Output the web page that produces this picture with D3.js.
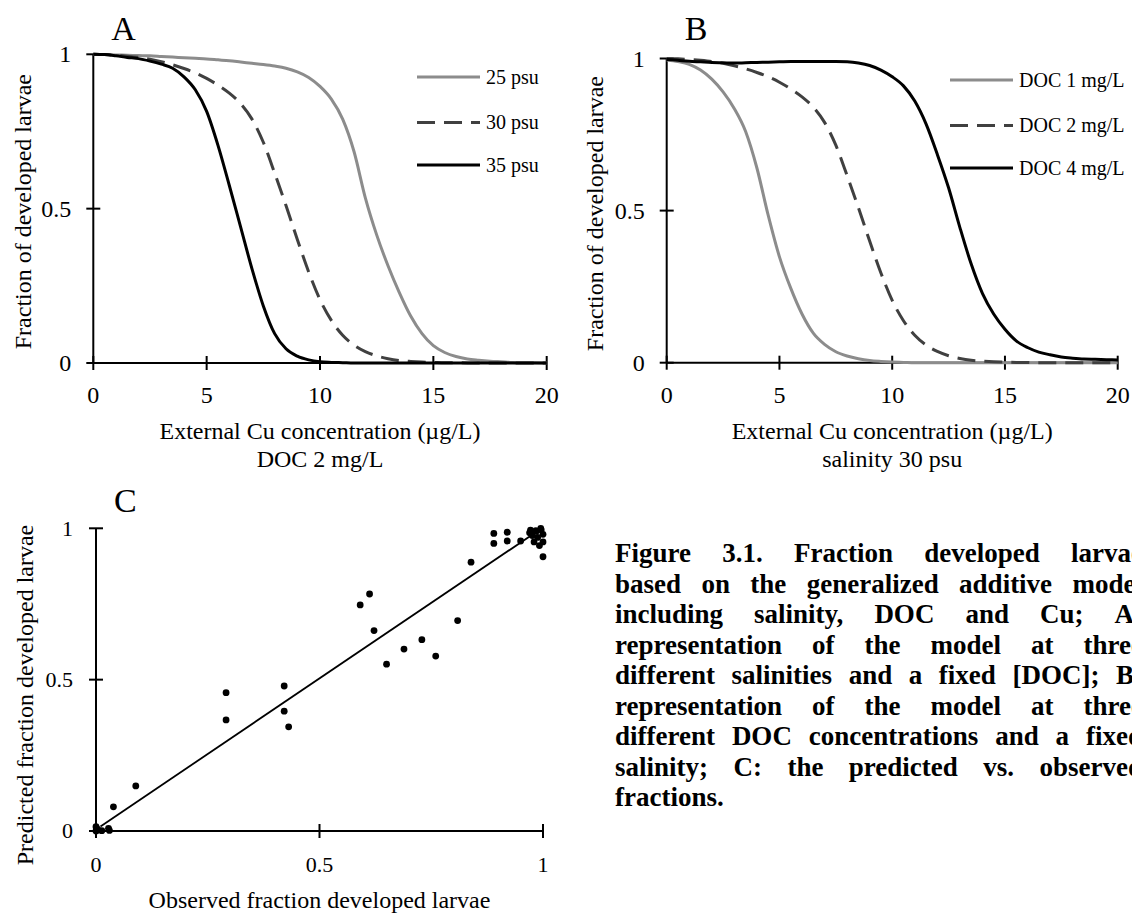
<!DOCTYPE html>
<html><head><meta charset="utf-8">
<script src="https://cdn.jsdelivr.net/npm/d3@7"></script>
<style>body{margin:0;background:#fff}svg{display:block}text{font-family:"Liberation Serif","Times New Roman",serif;fill:#000}</style>
</head><body>
<svg id="chart" width="1132" height="915"></svg>
<script>
// ---- data ----
const cuX = [0,0.5,1,1.5,2,2.5,3,3.5,4,4.5,5,5.5,6,6.5,7,7.5,8,8.5,9,9.5,10,10.5,11,11.5,12,12.5,13,13.5,14,14.5,15,15.5,16,16.5,17,17.5,18,18.5,19,19.5,20];
const psu25 = [1,0.999,0.998,0.997,0.996,0.995,0.993,0.991,0.989,0.987,0.985,0.982,0.979,0.975,0.971,0.967,0.962,0.955,0.943,0.925,0.896,0.855,0.79,0.685,0.535,0.415,0.315,0.228,0.152,0.095,0.056,0.034,0.021,0.013,0.009,0.006,0.004,0.002,0.001,0.001,0];
const psu30 = [1,0.999,0.997,0.994,0.99,0.984,0.976,0.966,0.954,0.94,0.922,0.9,0.874,0.84,0.79,0.715,0.615,0.51,0.4,0.295,0.205,0.138,0.09,0.058,0.037,0.023,0.014,0.008,0.005,0.003,0.002,0.001,0.001,0,0,0,0,0,0,0,0];
const psu35 = [1,0.999,0.995,0.99,0.986,0.978,0.968,0.955,0.927,0.885,0.815,0.705,0.575,0.44,0.305,0.185,0.095,0.046,0.022,0.01,0.004,0.002,0.001,0,0,0,0,0,0,0,0,0,0,0,0,0,0,0,0,0,0];
const doc1 = [0.995,0.99,0.981,0.962,0.932,0.89,0.835,0.76,0.64,0.485,0.348,0.245,0.16,0.097,0.06,0.036,0.022,0.013,0.007,0.004,0.002,0.001,0,0,0,0,0,0,0,0,0,0,0,0,0,0,0,0,0,0,0];
const doc2 = [1,0.999,0.997,0.994,0.99,0.984,0.976,0.966,0.954,0.94,0.922,0.9,0.874,0.84,0.79,0.715,0.615,0.51,0.4,0.295,0.205,0.138,0.09,0.058,0.037,0.023,0.014,0.008,0.005,0.003,0.002,0.001,0.001,0,0,0,0,0,0,0,0];
const doc4 = [0.997,0.994,0.991,0.989,0.987,0.986,0.985,0.986,0.987,0.988,0.989,0.99,0.99,0.99,0.99,0.99,0.989,0.985,0.977,0.962,0.94,0.91,0.86,0.785,0.685,0.575,0.445,0.325,0.228,0.16,0.11,0.072,0.05,0.035,0.026,0.019,0.015,0.012,0.011,0.01,0.009];
const cuTicks = [0,5,10,15,20];
const fracTicks = [0,0.5,1];
const seriesNamesA = ["25 psu","30 psu","35 psu"];
const seriesNamesB = ["DOC 1 mg/L","DOC 2 mg/L","DOC 4 mg/L"];
const observed = [0,0.005,0,0.013,0.002,0.028,0.03,0.039,0.089,0.291,0.291,0.421,0.421,0.431,0.591,0.612,0.622,0.650,0.689,0.729,0.760,0.809,0.839,0.890,0.890,0.920,0.920,0.950,0.972,0.984,0.996,1.0,0.98,0.992,1.0,1.0,0.976,0.988,0.995,0.985,0.97];
const predicted = [0.014,0.003,0,0.001,0.008,0.009,0.002,0.080,0.149,0.457,0.367,0.479,0.396,0.344,0.747,0.783,0.662,0.551,0.601,0.632,0.578,0.695,0.888,0.983,0.950,0.987,0.958,0.958,0.994,0.992,0.994,0.98,0.955,0.943,0.955,0.906,0.976,0.970,1.0,0.99,0.985];
const fitObs = [0.01,0.975];
const fitPred = [0.015,0.978];
const captionLines = [
  "Figure 3.1. Fraction developed larvae",
  "based on the generalized additive model",
  "including salinity, DOC and Cu; A:",
  "representation of the model at three",
  "different salinities and a fixed [DOC]; B:",
  "representation of the model at three",
  "different DOC concentrations and a fixed",
  "salinity; C: the predicted vs. observed",
  "fractions."
];

// ---- styles ----
const styles = [
  {stroke:"#8c8c8c", dash:null},
  {stroke:"#404040", dash:"18,9"},
  {stroke:"#000", dash:null}
];

const svg = d3.select("#chart");

function drawAxes(g, x, y, xt, yt, fs, xfmt, yfmt, xLabDy, yLabDx){
  g.append("line").attr("x1",x.range()[0]).attr("x2",x.range()[1])
    .attr("y1",y(0)).attr("y2",y(0)).attr("stroke","#000").attr("stroke-width",2);
  g.append("line").attr("x1",x(0)).attr("x2",x(0))
    .attr("y1",y(0)).attr("y2",y.range()[1]).attr("stroke","#000").attr("stroke-width",2);
  xt.forEach(v=>{
    g.append("line").attr("x1",x(v)).attr("x2",x(v)).attr("y1",y(0)-7).attr("y2",y(0)+7)
      .attr("stroke","#000").attr("stroke-width",2);
    g.append("text").attr("x",x(v)).attr("y",y(0)+xLabDy).attr("text-anchor","middle")
      .style("font-size",fs+"px").text(xfmt(v));
  });
  yt.forEach(v=>{
    g.append("line").attr("x1",x(0)-7).attr("x2",x(0)+7).attr("y1",y(v)).attr("y2",y(v))
      .attr("stroke","#000").attr("stroke-width",2);
    g.append("text").attr("x",x(0)-yLabDx).attr("y",y(v)).attr("dy","0.34em").attr("text-anchor","end")
      .style("font-size",fs+"px").text(yfmt(v));
  });
}
const fmt = v => String(v);

function curvePanel(o){
  const g = svg.append("g");
  const x = d3.scaleLinear().domain([0,20]).range([o.x0,o.x1]);
  const y = d3.scaleLinear().domain([0,1]).range([o.y0,o.y1]);
  drawAxes(g,x,y,cuTicks,fracTicks,24,fmt,fmt,40,22);
  const line = d3.line().x((d,i)=>x(cuX[i])).y(d=>y(d)).curve(d3.curveMonotoneX);
  o.series.forEach((s,i)=>{
    g.append("path").datum(s).attr("d",line).attr("fill","none")
      .attr("stroke",styles[i].stroke).attr("stroke-width",3)
      .attr("stroke-dasharray",styles[i].dash);
  });
  o.names.forEach((n,i)=>{
    const ly = o.legY[i];
    g.append("line").attr("x1",o.legX).attr("x2",o.legX+63).attr("y1",ly).attr("y2",ly)
      .attr("stroke",styles[i].stroke).attr("stroke-width",3).attr("stroke-dasharray",styles[i].dash);
    g.append("text").attr("x",o.legX+69).attr("y",ly).attr("dy","0.34em")
      .style("font-size","20px").text(n);
  });
  const cx = (o.x0+o.x1)/2;
  g.append("text").attr("x",cx).attr("y",439).attr("text-anchor","middle").style("font-size","24px")
    .text("External Cu concentration (µg/L)");
  g.append("text").attr("x",cx).attr("y",467).attr("text-anchor","middle").style("font-size","24px")
    .text(o.sub);
  g.append("text").attr("transform",`translate(${o.yTitleX},${(o.y0+o.y1)/2+3}) rotate(-90)`)
    .attr("text-anchor","middle").style("font-size","24px").text("Fraction of developed larvae");
  g.append("text").attr("x",o.x0+18).attr("y",40).style("font-size","34px").text(o.letter);
}

curvePanel({x0:93.3,x1:546.7,y0:363,y1:54.3,series:[psu25,psu30,psu35],names:seriesNamesA,
  legX:417,legY:[77,122.4,165],sub:"DOC 2 mg/L",yTitleX:31,letter:"A"});
curvePanel({x0:666.7,x1:1117.7,y0:362.7,y1:58.5,series:[doc1,doc2,doc4],names:seriesNamesB,
  legX:950,legY:[80,125.6,168],sub:"salinity 30 psu",yTitleX:603,letter:"B"});

// ---- panel C ----
(function(){
  const g = svg.append("g");
  const x = d3.scaleLinear().domain([0,1]).range([96,543]);
  const y = d3.scaleLinear().domain([0,1]).range([831,528.3]);
  drawAxes(g,x,y,fracTicks,fracTicks,22,fmt,fmt,41,23);
  g.append("line").attr("x1",x(fitObs[0])).attr("y1",y(fitPred[0]))
    .attr("x2",x(fitObs[1])).attr("y2",y(fitPred[1])).attr("stroke","#000").attr("stroke-width",1.8);
  g.selectAll("circle.pt").data(observed.map((o,i)=>[o,predicted[i]])).join("circle")
    .attr("class","pt").attr("cx",d=>x(d[0])).attr("cy",d=>y(d[1])).attr("r",3.4).attr("fill","#000");
  g.append("text").attr("x",319.5).attr("y",908).attr("text-anchor","middle").style("font-size","24px")
    .text("Observed fraction developed larvae");
  g.append("text").attr("transform",`translate(33,695) rotate(-90)`)
    .attr("text-anchor","middle").style("font-size","24px").text("Predicted fraction developed larvae");
  g.append("text").attr("x",114).attr("y",512).style("font-size","34px").text("C");
})();

// ---- caption (justified, clipped at the right edge like the reference) ----
(function(){
  const left = 615, right = 1143, top = 562, lh = 30.5;
  const g = svg.append("g").style("font-weight","bold").style("font-size","27px");
  captionLines.forEach((ln,i)=>{
    const words = ln.split(" ");
    const ts = words.map(w=>g.append("text").attr("y",top+i*lh).text(w));
    const ws = ts.map(t=>t.node().getComputedTextLength());
    const total = d3.sum(ws);
    const last = i===captionLines.length-1;
    const gap = last ? 7 : (right-left-total)/(words.length-1);
    let cx = left;
    ts.forEach((t,j)=>{t.attr("x",cx); cx += ws[j]+gap;});
  });
})();
</script>
</body></html>
